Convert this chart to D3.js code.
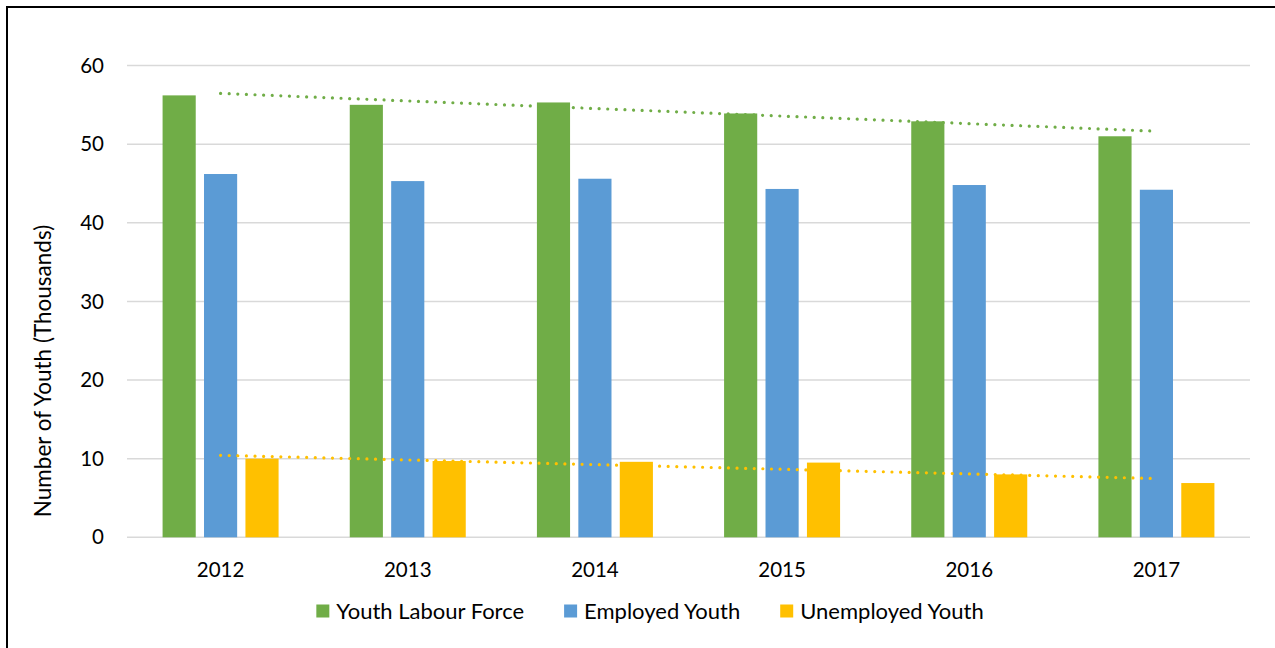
<!DOCTYPE html>
<html>
<head>
<meta charset="utf-8">
<script src="https://cdn.jsdelivr.net/npm/d3@7/dist/d3.min.js"></script>
<style>
  html, body { margin: 0; padding: 0; background: #fff; }
  svg { display: block; font-family: Lato, "Open Sans", sans-serif; }
</style>
</head>
<body>
<svg id="chart" width="1275" height="648"></svg>
<script>
const years = ["2012", "2013", "2014", "2015", "2016", "2017"];
const seriesNames = ["Youth Labour Force", "Employed Youth", "Unemployed Youth"];
const labourForce = [56.2, 55.0, 55.3, 53.9, 52.9, 51.0];
const employed = [46.2, 45.3, 45.6, 44.3, 44.8, 44.2];
const unemployed = [10.0, 9.7, 9.6, 9.5, 8.0, 6.9];
const yTicks = [0, 10, 20, 30, 40, 50, 60];
const colors = ["#70AD47", "#5B9BD5", "#FFC000"];
const trendSeries = [0, 2]; // series with linear trendlines

const seriesValues = [labourForce, employed, unemployed];

const svg = d3.select("#chart");

// outer chart border (extends beyond visible area on right/bottom)
svg.append("rect").attr("x", 7).attr("y", 7).attr("width", 1300).attr("height", 700)
  .attr("fill", "none").attr("stroke", "#000").attr("stroke-width", 2);

const plotLeft = 127, plotRight = 1250, plotTop = 65.5, plotBottom = 537.3;

const x0 = d3.scaleBand().domain(years).range([plotLeft, plotRight]).paddingInner(0).paddingOuter(0);
const groupW = 116;
const x1 = d3.scaleBand().domain(d3.range(seriesNames.length)).range([-groupW / 2, groupW / 2]).paddingInner(0.2).paddingOuter(0);
const y = d3.scaleLinear().domain([0, 60]).range([plotBottom, plotTop]);

// gridlines
svg.append("g").selectAll("line").data(yTicks).join("line")
  .attr("x1", plotLeft).attr("x2", plotRight)
  .attr("y1", d => y(d)).attr("y2", d => y(d))
  .attr("stroke", "#D9D9D9").attr("stroke-width", 1.5);

// y tick labels
svg.append("g").selectAll("text").data(yTicks).join("text")
  .attr("x", 104).attr("y", d => y(d)).attr("dy", "0.35em")
  .attr("text-anchor", "end").attr("font-size", 20.5).attr("fill", "#000")
  .text(d => d);

// y axis title
svg.append("text")
  .attr("transform", `translate(51, 371) rotate(-90)`)
  .attr("text-anchor", "middle").attr("font-size", 22.5).attr("fill", "#000")
  .text("Number of Youth (Thousands)");

// bars
const groups = svg.append("g").selectAll("g").data(years).join("g")
  .attr("transform", d => `translate(${x0(d) + x0.bandwidth() / 2},0)`);
groups.selectAll("rect").data((d, i) => seriesValues.map((s, k) => ({ k, v: s[i] }))).join("rect")
  .attr("x", d => x1(d.k)).attr("width", x1.bandwidth())
  .attr("y", d => y(d.v)).attr("height", d => y(0) - y(d.v))
  .attr("fill", d => colors[d.k]);

// x labels
svg.append("g").selectAll("text").data(years).join("text")
  .attr("x", d => x0(d) + x0.bandwidth() / 2).attr("y", 577)
  .attr("text-anchor", "middle").attr("font-size", 20.5).attr("fill", "#000")
  .text(d => d);

// trendlines (least-squares linear fit over category index)
trendSeries.forEach(k => {
  const vals = seriesValues[k];
  const n = vals.length;
  const xs = d3.range(n);
  const mx = d3.mean(xs), my = d3.mean(vals);
  const slope = d3.sum(xs, i => (i - mx) * (vals[i] - my)) / d3.sum(xs, i => (i - mx) ** 2);
  const intercept = my - slope * mx;
  const pts = [0, n - 1].map(i => [x0(years[i]) + x0.bandwidth() / 2, y(intercept + slope * i)]);
  svg.append("path").attr("d", d3.line()(pts))
    .attr("fill", "none").attr("stroke", colors[k]).attr("stroke-width", 3.2)
    .attr("stroke-linecap", "round").attr("stroke-dasharray", "0.01 8.6");
});

// legend
const legend = svg.append("g");
const items = legend.selectAll("g").data(seriesNames).join("g");
items.append("rect").attr("width", 13).attr("height", 13).attr("y", 604.5).attr("fill", (d, i) => colors[i]);
items.append("text").attr("x", 20).attr("y", 619).attr("font-size", 22).attr("fill", "#000").text(d => d);
let widths = [];
items.each(function () { widths.push(20 + d3.select(this).select("text").node().getComputedTextLength()); });
const gap = 40;
const total = d3.sum(widths) + gap * (widths.length - 1);
let cx = 650 - total / 2;
items.each(function (d, i) { d3.select(this).attr("transform", `translate(${cx},0)`); cx += widths[i] + gap; });
</script>
</body>
</html>
